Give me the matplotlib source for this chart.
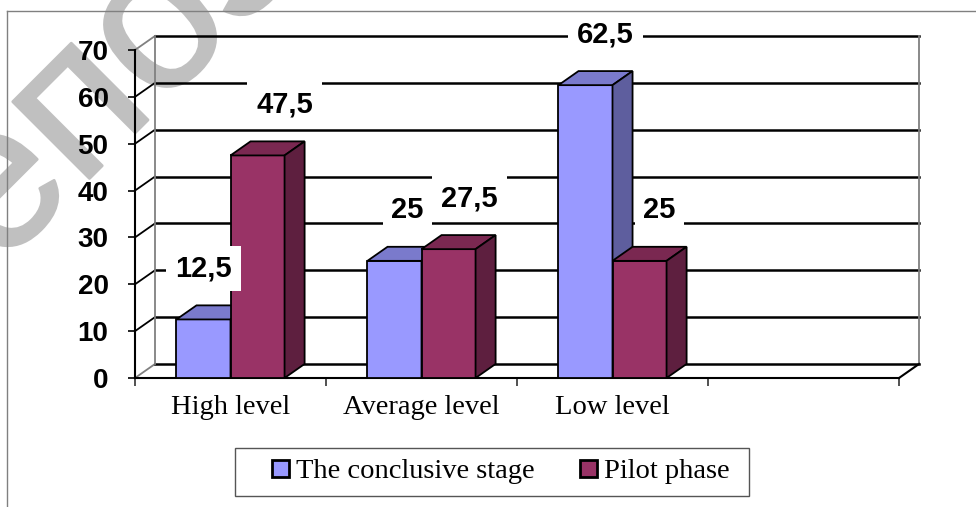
import matplotlib.pyplot as plt
import matplotlib.patheffects as pe
from matplotlib.patches import Polygon, Rectangle, Patch
from matplotlib.lines import Line2D

# data
categories = ["High level", "Average level", "Low level"]
series_names = ["The conclusive stage", "Pilot phase"]
conclusive = [12.5, 25, 62.5]
pilot = [47.5, 27.5, 25]
yticks = [0, 10, 20, 30, 40, 50, 60, 70]

# look
front_cols = ["#9999ff", "#993366"]
W, H = 976, 507
NCAT = 4             # excel leaves an empty 4th slot on the axis
BW = 0.283           # one bar, in category units
DX, DY = 0.105, 3.0  # fake 3d depth, data units
# label shifts (px) that excel picked to dodge overlaps
label_dx = [[0, 13, 20], [27, 21, 20]]
LABEL_UP = 51  # px above the bar front top


def shade(hexcol, f):
    r, g, b = [int(hexcol[i:i + 2], 16) for i in (1, 3, 5)]
    return "#%02x%02x%02x" % (int(r * f), int(g * f), int(b * f))


plt.rcParams["font.family"] = ["Liberation Sans", "DejaVu Sans"]

fig = plt.figure(figsize=(W / 100, H / 100), dpi=100)

# watermark behind the chart (stroke thickens the glyphs a bit)
fig.text(-92 / W, 1 - 360 / H, "Репозиторий БГПУ", rotation=45,
         rotation_mode="anchor", ha="left", va="baseline", fontsize=148,
         color="#c0c0c0", zorder=-1,
         path_effects=[pe.withStroke(linewidth=2, foreground="#c0c0c0")])

# chart area frame (cropped at right and bottom)
fig.add_artist(Line2D([6.5 / W, 6.5 / W], [0, 1 - 11 / H], color="#808080", lw=1))
fig.add_artist(Line2D([6.5 / W, 1], [1 - 11 / H, 1 - 11 / H], color="#808080", lw=1))

ax = fig.add_axes([135 / W, 129 / H, 764 / W, 328 / H])
ax.set_xlim(0, NCAT)
ax.set_ylim(0, 70)
ax.patch.set_alpha(0)
ax.spines["top"].set_visible(False)
ax.spines["right"].set_visible(False)
ax.spines["left"].set_linewidth(1.5)
ax.spines["bottom"].set_linewidth(1.5)

# walls: side wall diagonals, back wall gridlines, floor
for v in yticks:
    ax.plot([0, DX], [v, v + DY], color="black" if 0 < v < 70 else "#808080",
            lw=1.3, zorder=1, clip_on=False)
    ax.plot([DX, NCAT + DX], [v + DY, v + DY], color="black", lw=1.8,
            zorder=1, clip_on=False)
ax.plot([DX, DX], [DY, 70 + DY], color="#808080", lw=1.3, zorder=1, clip_on=False)
ax.plot([NCAT + DX, NCAT + DX], [DY, 70 + DY], color="#808080", lw=1.3,
        zorder=1, clip_on=False)
ax.plot([NCAT, NCAT + DX], [0, DY], color="black", lw=1.5, zorder=1, clip_on=False)

# bars
for k, vals in enumerate([conclusive, pilot]):
    col = front_cols[k]
    xs = [i + 0.5 - BW + k * BW for i in range(len(categories))]
    ax.bar(xs, vals, BW, align="edge", color=col, edgecolor="black",
           linewidth=1.3, zorder=3 + k, clip_on=False)
    for j, (x, v) in enumerate(zip(xs, vals)):
        top = [(x, v), (x + BW, v), (x + BW + DX, v + DY), (x + DX, v + DY)]
        side = [(x + BW, 0), (x + BW + DX, DY), (x + BW + DX, v + DY), (x + BW, v)]
        ax.add_patch(Polygon(top, closed=True, fc=shade(col, 0.8), ec="black",
                             lw=1.3, zorder=3 + k, clip_on=False))
        ax.add_patch(Polygon(side, closed=True, fc=shade(col, 0.62), ec="black",
                             lw=1.3, zorder=3 + k, clip_on=False))
        ax.annotate(("%g" % v).replace(".", ","), xy=(x + BW / 2, v),
                    xytext=(label_dx[k][j] * 0.72, LABEL_UP * 0.72),
                    textcoords="offset points", ha="center", va="center",
                    fontsize=21, fontweight="bold", zorder=10,
                    annotation_clip=False,
                    bbox=dict(boxstyle="square,pad=0.3", fc="white", ec="none"))

# axes ticks
ax.set_yticks(yticks)
ax.tick_params(axis="y", length=5, width=1.2, pad=14, labelsize=20)
for lbl in ax.get_yticklabels():
    lbl.set_fontweight("bold")
ax.set_xticks(range(NCAT + 1))
ax.set_xticklabels([])
ax.tick_params(axis="x", which="major", length=6, width=1.2, color="#333333")
ax.set_xticks([i + 0.5 for i in range(len(categories))], minor=True)
ax.set_xticklabels(categories, minor=True, fontsize=20.5, family="Liberation Serif")
ax.tick_params(axis="x", which="minor", length=0, pad=12)

# legend with excel-like box
handles = [Patch(facecolor=c, edgecolor="black", lw=2) for c in front_cols]
fig.legend(handles, series_names, loc="center",
           bbox_to_anchor=(501 / W, 1 - 472 / H), ncol=2, frameon=False,
           prop={"family": "Liberation Serif", "size": 20.5},
           handlelength=0.6, handleheight=0.5, handletextpad=0.25,
           columnspacing=1.6)
fig.add_artist(Rectangle((235 / W, 1 - 496 / H), 514 / W, 48 / H,
                         transform=fig.transFigure, fill=False,
                         ec="#555555", lw=1))

fig.savefig("out.png", dpi=100)
